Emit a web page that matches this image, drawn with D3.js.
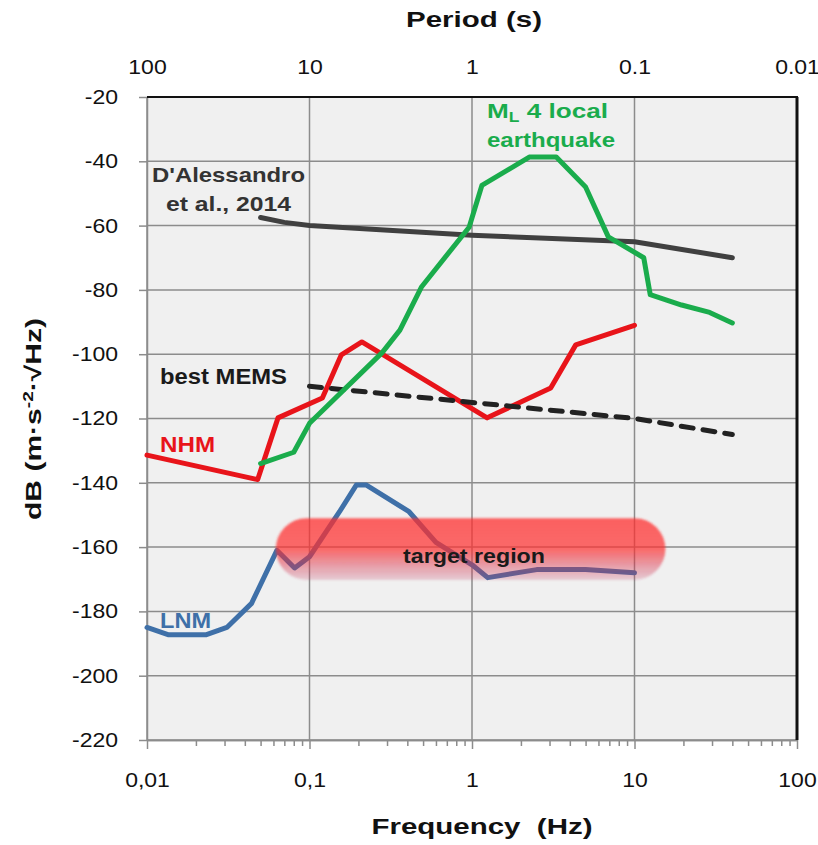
<!DOCTYPE html>
<html lang="en">
<head>
<meta charset="UTF-8">
<title>Seismic noise models vs frequency</title>
<style>
  body { margin: 0; background: #fff; }
  svg text { font-family: Arial, "Liberation Sans", sans-serif; }
</style>
</head>
<body>
<svg id="chart" width="818" height="845"></svg>
<script src="https://cdn.jsdelivr.net/npm/d3@7/dist/d3.min.js"></script>
<script>
// axis ticks
const freqTicks = [0.01, 0.1, 1, 10, 100];
const freqLabels = ["0,01", "0,1", "1", "10", "100"];
const periodTicks = [100, 10, 1, 0.1, 0.01];
const periodLabels = ["100", "10", "1", "0.1", "0.01"];
const dbTicks = [-220, -200, -180, -160, -140, -120, -100, -80, -60, -40, -20];

// D'Alessandro et al., 2014
const dalFreq = [0.05, 0.07, 0.1, 1, 10, 40];
const dalDb = [-57.5, -59, -60, -63, -65, -70];

// best MEMS
const memsFreq = [0.1, 1, 10, 40];
const memsDb = [-110, -115, -120, -125];

// ML 4 local earthquake
const eqFreq = [0.05, 0.08, 0.1, 0.28, 0.36, 0.49, 0.96, 1.15, 2.25, 3.3, 5, 6.9, 11.4, 12.5, 19.5, 29, 40];
const eqDb = [-134, -130.5, -121.5, -99.5, -92.5, -79, -60.5, -47.5, -38.7, -38.7, -48, -63.5, -70, -81.5, -84.7, -87, -90.3];

// NHM (new high noise model)
const nhmFreq = [0.01, 0.048, 0.064, 0.12, 0.157, 0.21, 1.24, 3.05, 4.35, 10];
const nhmDb = [-131.4, -139, -119.8, -113.6, -100.2, -96.2, -119.8, -110.5, -97.1, -91];

// LNM (new low noise model)
const lnmFreq = [0.01, 0.0136, 0.023, 0.031, 0.044, 0.063, 0.081, 0.1, 0.153, 0.194, 0.224, 0.41, 0.6, 1, 1.25, 2.5, 5, 10];
const lnmDb = [-185, -187.3, -187.3, -185, -177.5, -161, -166.5, -163, -149, -140.7, -140.7, -149, -158.5, -165.5, -169.5, -167, -167, -168];

// target region (frequency span, dB span)
const targetFreq = [0.062, 15.5];
const targetDb = [-151, -170.2];

const svg = d3.select("#chart");
const pLeft = 147, pRight = 797, pTop = 97, pBottom = 740;

const x = d3.scaleLog().domain([0.01, 100]).range([pLeft, pRight]);
const xp = d3.scaleLog().domain([100, 0.01]).range([pLeft, pRight]);
const y = d3.scaleLinear().domain([-220, -20]).range([pBottom, pTop]);

// stretch text horizontally (the reference is a bit wide)
function stretch(sel, k) {
  sel.each(function () {
    const w = this.getComputedTextLength();
    d3.select(this).attr("textLength", w * k).attr("lengthAdjust", "spacingAndGlyphs");
  });
}
function fit(sel, w) {
  sel.attr("textLength", w).attr("lengthAdjust", "spacingAndGlyphs");
}

// defs: gradient + soft edge for the target region
const defs = svg.append("defs");
const grad = defs.append("linearGradient").attr("id", "tgt").attr("x1", 0).attr("x2", 0).attr("y1", 0).attr("y2", 1);
grad.append("stop").attr("offset", "0%").attr("stop-color", "#ff2e2e").attr("stop-opacity", 0.74);
grad.append("stop").attr("offset", "50%").attr("stop-color", "#ff2e2e").attr("stop-opacity", 0.7);
grad.append("stop").attr("offset", "100%").attr("stop-color", "#c0305a").attr("stop-opacity", 0.2);
defs.append("filter").attr("id", "soft")
  .append("feGaussianBlur").attr("stdDeviation", 1.2);

// plot background
svg.append("rect")
  .attr("x", pLeft).attr("y", pTop)
  .attr("width", pRight - pLeft).attr("height", pBottom - pTop)
  .attr("fill", "#f0f0f0");

// gridlines
svg.append("g").selectAll("line").data(dbTicks).join("line")
  .attr("x1", pLeft).attr("x2", pRight)
  .attr("y1", d => y(d)).attr("y2", d => y(d))
  .attr("stroke", "#8c8c8c").attr("stroke-width", 1.5);
svg.append("g").selectAll("line").data(freqTicks).join("line")
  .attr("x1", d => x(d)).attr("x2", d => x(d))
  .attr("y1", pTop).attr("y2", pBottom)
  .attr("stroke", "#8c8c8c").attr("stroke-width", 1.5);

// left axis
svg.append("g")
  .attr("transform", `translate(${pLeft},0)`)
  .call(d3.axisLeft(y).tickValues(dbTicks).tickSize(8).tickSizeOuter(0).tickPadding(21).tickFormat(d => String(d)));

// bottom axis: minor ticks, then major ticks with labels
const minor = [];
[0.01, 0.1, 1, 10].forEach(b => { for (let i = 2; i <= 9; i++) minor.push(b * i); });
svg.append("g")
  .attr("transform", `translate(0,${pBottom})`)
  .call(d3.axisBottom(x).tickValues(minor).tickSize(6).tickSizeOuter(0).tickFormat(""));
svg.append("g")
  .attr("transform", `translate(0,${pBottom})`)
  .call(d3.axisBottom(x).tickValues(freqTicks).tickSize(9).tickSizeOuter(0).tickPadding(24)
    .tickFormat((d, i) => freqLabels[i]));

// top axis: period labels only
const pAxis = svg.append("g")
  .attr("transform", `translate(0,${pTop})`)
  .call(d3.axisTop(xp).tickValues(periodTicks).tickSize(0).tickPadding(23)
    .tickFormat((d, i) => periodLabels[i]));
pAxis.select(".domain").remove();

svg.selectAll(".domain, .tick line").attr("stroke", "#8c8c8c").attr("stroke-width", 1.5);
svg.selectAll(".tick text").attr("font-size", 20).attr("fill", "#111").call(stretch, 1.15);

// frame: top and right borders are black
svg.append("line").attr("x1", pLeft).attr("x2", pRight + 1).attr("y1", pTop).attr("y2", pTop)
  .attr("stroke", "#111").attr("stroke-width", 2);
svg.append("line").attr("x1", pRight).attr("x2", pRight).attr("y1", pTop).attr("y2", pBottom)
  .attr("stroke", "#111").attr("stroke-width", 3);

// curves
const line = d3.line().x(d => x(d[0])).y(d => y(d[1]));
const zip = (a, b) => a.map((v, i) => [v, b[i]]);

function curve(fs, vs, color, width, dash) {
  svg.append("path")
    .datum(zip(fs, vs))
    .attr("d", line)
    .attr("fill", "none")
    .attr("stroke", color)
    .attr("stroke-width", width)
    .attr("stroke-linejoin", "round")
    .attr("stroke-linecap", "round")
    .attr("stroke-dasharray", dash || null);
}

curve(nhmFreq, nhmDb, "#e8141a", 5);
curve(lnmFreq, lnmDb, "#3f70a8", 5);
curve(memsFreq, memsDb, "#222", 5, "12,10");
curve(dalFreq, dalDb, "#404040", 5);
curve(eqFreq, eqDb, "#1aac4c", 5);

// target region capsule
const ty0 = y(targetDb[0]), ty1 = y(targetDb[1]);
svg.append("rect")
  .attr("x", x(targetFreq[0])).attr("y", ty0)
  .attr("width", x(targetFreq[1]) - x(targetFreq[0]))
  .attr("height", ty1 - ty0)
  .attr("rx", (ty1 - ty0) / 2).attr("ry", (ty1 - ty0) / 2)
  .attr("fill", "url(#tgt)")
  .attr("filter", "url(#soft)");

// annotations
function label(txt, px, py, w, color, size) {
  const t = svg.append("text")
    .attr("x", px).attr("y", py)
    .attr("font-size", size || 21).attr("font-weight", "bold")
    .attr("fill", color).text(txt);
  fit(t, w);
  return t;
}

label("D'Alessandro", 152, 182, 153, "#333");
label("et al., 2014", 166, 211, 125, "#333");
label("best MEMS", 160, 384, 127, "#1a1a1a", 22);
label("NHM", 160, 452, 55, "#e8141a", 22);
label("LNM", 160, 628, 51, "#3f70a8", 22);
label("target region", 403, 563, 142, "#1a1a1a", 20);
label("earthquake", 487, 147, 128, "#1aac4c");

const ml = svg.append("text")
  .attr("x", 487).attr("y", 118)
  .attr("font-size", 21).attr("font-weight", "bold").attr("fill", "#1aac4c");
ml.append("tspan").text("M");
ml.append("tspan").attr("font-size", 14).attr("dy", 4).text("L");
ml.append("tspan").attr("dy", -4).text(" 4 local");
fit(ml, 121);

// axis titles
const pt = svg.append("text")
  .attr("x", 474).attr("y", 27).attr("text-anchor", "middle")
  .attr("font-size", 22).attr("font-weight", "bold").attr("fill", "#111")
  .text("Period (s)");
fit(pt, 136);

const ft = svg.append("text")
  .attr("x", 482).attr("y", 834).attr("text-anchor", "middle")
  .attr("font-size", 22).attr("font-weight", "bold").attr("fill", "#111")
  .attr("xml:space", "preserve")
  .text("Frequency  (Hz)");
fit(ft, 221);

const yt = svg.append("text")
  .attr("transform", "translate(41,419) rotate(-90)")
  .attr("text-anchor", "middle")
  .attr("font-size", 22).attr("font-weight", "bold").attr("fill", "#111");
yt.append("tspan").text("dB (m·s");
yt.append("tspan").attr("font-size", 14).attr("dy", -8).text("-2");
yt.append("tspan").attr("dy", 8).text("·√Hz)");
fit(yt, 202);
</script>
</body>
</html>
